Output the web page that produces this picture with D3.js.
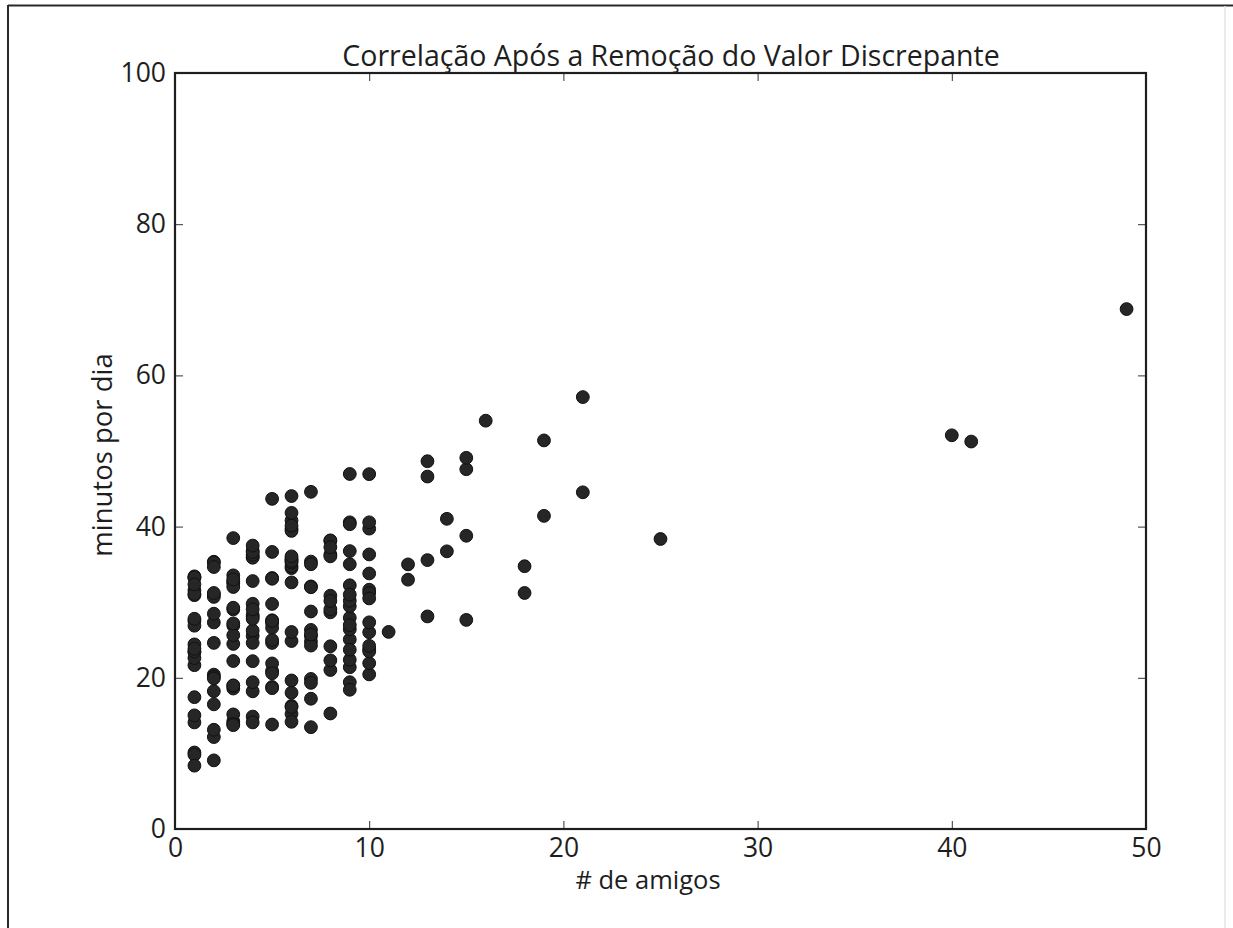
<!DOCTYPE html>
<html>
<head>
<meta charset="utf-8">
<script src="https://cdn.jsdelivr.net/npm/d3@7/dist/d3.min.js"></script>
<style>
  body { margin: 0; background: #fff; }
  text { font-family: "Open Sans", sans-serif; fill: #1e1e1e; }
</style>
</head>
<body>
<svg id="chart" width="1233" height="928"></svg>
<script>
// número de amigos (outlier de 100 amigos já removido)
const numFriends = [
  49, 41, 40, 25, 21, 21, 19, 19, 18, 18, 16, 15, 15, 15, 15, 14, 14, 13, 13, 13, 13, 12, 12, 11,
  10, 10, 10, 10, 10, 10, 10, 10, 10, 10, 10, 10, 10, 10, 10,
  9, 9, 9, 9, 9, 9, 9, 9, 9, 9, 9, 9, 9, 9, 9, 9, 9, 9,
  8, 8, 8, 8, 8, 8, 8, 8, 8, 8, 8, 8, 8,
  7, 7, 7, 7, 7, 7, 7, 7, 7, 7, 7, 7, 7, 7, 7,
  6, 6, 6, 6, 6, 6, 6, 6, 6, 6, 6, 6, 6, 6, 6, 6, 6, 6, 6, 6, 6, 6,
  5, 5, 5, 5, 5, 5, 5, 5, 5, 5, 5, 5, 5, 5, 5, 5, 5,
  4, 4, 4, 4, 4, 4, 4, 4, 4, 4, 4, 4, 4, 4, 4, 4, 4, 4, 4, 4,
  3, 3, 3, 3, 3, 3, 3, 3, 3, 3, 3, 3, 3, 3, 3, 3, 3, 3, 3, 3,
  2, 2, 2, 2, 2, 2, 2, 2, 2, 2, 2, 2, 2, 2, 2, 2, 2,
  1, 1, 1, 1, 1, 1, 1, 1, 1, 1, 1, 1, 1, 1, 1, 1, 1, 1, 1, 1, 1, 1
];

// minutos por dia, na mesma ordem
const dailyMinutes = [
  68.77, 51.25, 52.08, 38.36, 44.54, 57.13, 51.4, 41.42, 31.22, 34.76, 54.01, 38.79, 47.59, 49.1, 27.66,
  41.03, 36.73, 48.65, 28.12, 46.62, 35.57, 32.98, 35, 26.07,
  23.77, 39.73, 40.57, 31.65, 31.21, 36.32, 20.45, 21.93, 26.02, 27.34, 23.49, 46.94, 30.5, 33.8, 24.23,
  21.4, 27.94, 32.24, 40.57, 25.07, 19.42, 22.39, 18.42, 46.96, 23.72, 26.41, 26.97, 36.76, 40.32, 35.02, 29.47, 30.2, 31,
  38.11, 38.18, 36.31, 21.03, 30.86, 36.07, 28.66, 29.08, 37.28, 15.28, 24.17, 22.31, 30.17,
  25.53, 19.85, 35.37, 44.6, 17.23, 13.47, 26.33, 35.02, 32.09, 24.81, 19.33, 28.77, 24.26, 31.98, 25.73,
  24.86, 16.28, 34.51, 15.23, 39.72, 40.8, 26.06, 35.76, 34.76, 16.13, 44.04, 18.03, 19.65, 32.62, 35.59, 39.43, 14.18, 35.24, 40.13, 41.82, 35.45, 36.07,
  43.67, 24.61, 20.9, 21.9, 18.79, 27.61, 27.21, 26.61, 29.77, 20.59, 27.53, 13.82, 33.2, 25, 33.1, 36.65, 18.63,
  14.87, 22.2, 36.81, 25.53, 24.62, 26.25, 18.21, 28.08, 19.42, 29.79, 32.8, 35.99, 28.32, 27.79, 35.88, 29.06, 36.28, 14.1, 36.63, 37.49,
  26.9, 18.58, 38.48, 24.48, 18.95, 33.55, 14.24, 29.04, 32.51, 25.63, 22.22, 19, 32.73, 15.16, 13.9, 27.2, 32.01, 29.27, 33, 13.74,
  20.42, 27.32, 18.23, 35.35, 28.48, 9.08, 24.62, 20.12, 35.26, 19.92, 31.02, 16.49, 12.16, 30.7, 31.22, 34.65, 13.13,
  27.51, 33.2, 31.57, 14.1, 33.42, 17.44, 10.12, 24.42, 9.82, 23.39, 30.93, 15.03, 21.67, 31.09, 33.29, 22.61, 26.89, 23.48, 8.38, 27.81, 32.35, 23.84
];

const xTicks = [0, 10, 20, 30, 40, 50];
const yTicks = [0, 20, 40, 60, 80, 100];

const titleText = "Correlação Após a Remoção do Valor Discrepante";
const xLabelText = "# de amigos";
const yLabelText = "minutos por dia";

// layout
const svg = d3.select("#chart");
const plot = { left: 175, right: 1146, top: 73, bottom: 829 };

const x = d3.scaleLinear().domain([0, 50]).range([plot.left, plot.right]);
const y = d3.scaleLinear().domain([0, 100]).range([plot.bottom, plot.top]);

// moldura externa da figura
svg.append("line").attr("x1", 8).attr("x2", 1233).attr("y1", 5.5).attr("y2", 5.5)
  .attr("stroke", "#2a2a2a").attr("stroke-width", 2);
svg.append("line").attr("x1", 8).attr("x2", 8).attr("y1", 5).attr("y2", 928)
  .attr("stroke", "#2a2a2a").attr("stroke-width", 2);
svg.append("line").attr("x1", 1225).attr("x2", 1225).attr("y1", 6).attr("y2", 928)
  .attr("stroke", "#e4e4e4").attr("stroke-width", 1.5);

// pontos
svg.append("g").attr("class", "dots")
  .selectAll("circle")
  .data(numFriends.map((f, i) => ({ f, m: dailyMinutes[i] })))
  .enter().append("circle")
  .attr("cx", d => x(d.f))
  .attr("cy", d => y(d.m))
  .attr("r", 6.4)
  .attr("fill", "#262626")
  .attr("stroke", "#111")
  .attr("stroke-width", 1);

// eixos com ticks para dentro, estilo matplotlib clássico
function styleAxis(g) {
  g.select(".domain").remove();
  g.selectAll(".tick line").attr("stroke", "#333").attr("stroke-width", 1);
  g.selectAll(".tick text").attr("font-size", 26.5).attr("fill", "#1e1e1e")
    .style("font-family", "'Open Sans', sans-serif");
}

const xAxis = svg.append("g")
  .attr("transform", `translate(0,${plot.bottom})`)
  .call(d3.axisBottom(x).tickValues(xTicks).tickSizeInner(-8).tickSizeOuter(0).tickPadding(9))
  .call(styleAxis);
xAxis.selectAll(".tick text").attr("dy", "0.71em");

svg.append("g")
  .attr("transform", `translate(0,${plot.top})`)
  .call(d3.axisTop(x).tickValues(xTicks).tickSizeInner(-8).tickSizeOuter(0).tickFormat(""))
  .call(styleAxis);

svg.append("g")
  .attr("transform", `translate(${plot.left},0)`)
  .call(d3.axisLeft(y).tickValues(yTicks).tickSizeInner(-8).tickSizeOuter(0).tickPadding(9))
  .call(styleAxis);

svg.append("g")
  .attr("transform", `translate(${plot.right},0)`)
  .call(d3.axisRight(y).tickValues(yTicks).tickSizeInner(-8).tickSizeOuter(0).tickFormat(""))
  .call(styleAxis);

// moldura do gráfico
svg.append("rect")
  .attr("x", plot.left).attr("y", plot.top)
  .attr("width", plot.right - plot.left).attr("height", plot.bottom - plot.top)
  .attr("fill", "none").attr("stroke", "#1e1e1e").attr("stroke-width", 2.2);

// textos
svg.append("text")
  .attr("x", 671).attr("y", 66)
  .attr("text-anchor", "middle")
  .attr("font-size", 28.5)
  .text(titleText);

svg.append("text")
  .attr("x", 648).attr("y", 889)
  .attr("text-anchor", "middle")
  .attr("font-size", 25.5)
  .text(xLabelText);

svg.append("text")
  .attr("transform", `translate(112,455) rotate(-90)`)
  .attr("text-anchor", "middle")
  .attr("font-size", 27.5)
  .text(yLabelText);
</script>
</body>
</html>
